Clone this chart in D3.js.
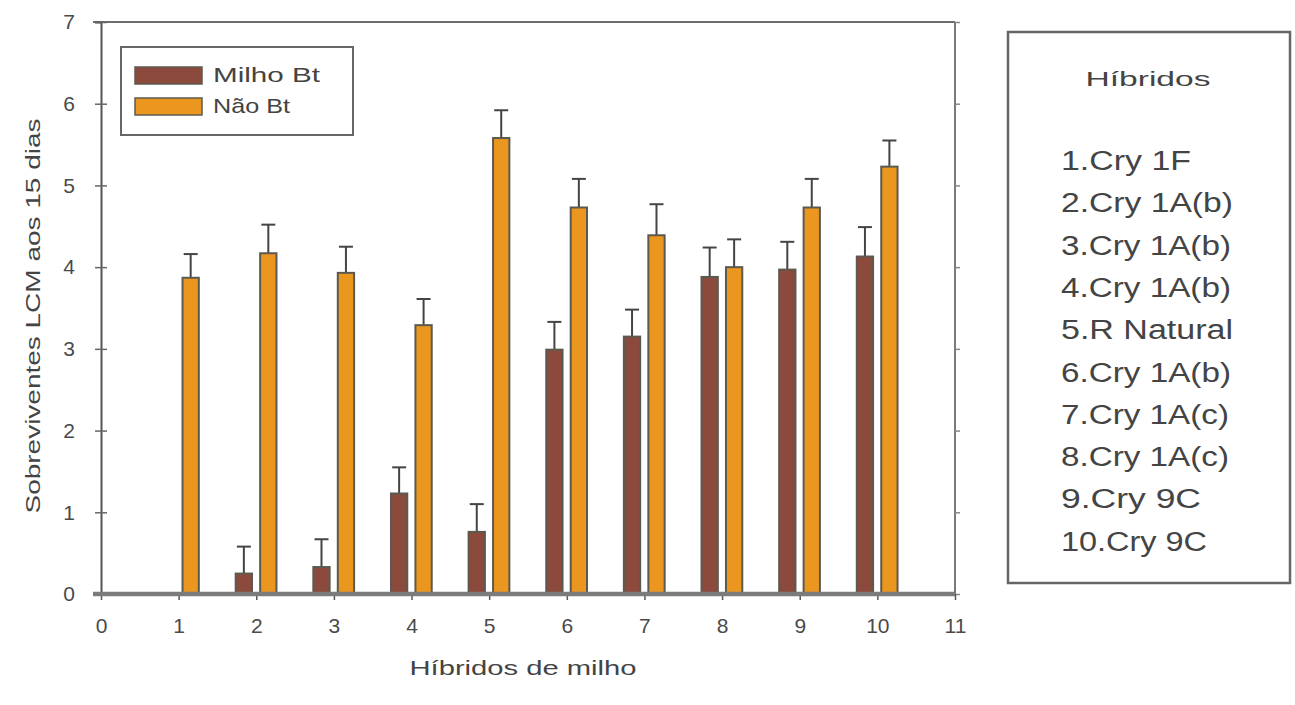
<!DOCTYPE html>
<html>
<head>
<meta charset="utf-8">
<script src="https://cdn.jsdelivr.net/npm/d3@7"></script>
<style>
  html, body { margin: 0; padding: 0; background: #fff; }
  svg { display: block; font-family: "Liberation Sans", Arial, sans-serif; }
</style>
</head>
<body>
<svg id="chart" width="1295" height="705"></svg>
<script>
// Survival of LCM larvae after 15 days on Bt and non-Bt corn hybrids
const hybrids = [1, 2, 3, 4, 5, 6, 7, 8, 9, 10];
const milhoBt = [0, 0.25, 0.33, 1.23, 0.76, 2.99, 3.15, 3.88, 3.97, 4.13];
const milhoBtErr = [0, 0.33, 0.34, 0.32, 0.34, 0.34, 0.33, 0.36, 0.34, 0.36];
const naoBt = [3.87, 4.17, 3.93, 3.29, 5.58, 4.73, 4.39, 4.0, 4.73, 5.23];
const naoBtErr = [0.29, 0.35, 0.32, 0.32, 0.34, 0.35, 0.38, 0.34, 0.35, 0.32];
const xTicks = [0, 1, 2, 3, 4, 5, 6, 7, 8, 9, 10, 11];
const yTicks = [0, 1, 2, 3, 4, 5, 6, 7];
const seriesNames = ["Milho Bt", "Não Bt"];
const hybridNames = ["1.Cry 1F", "2.Cry 1A(b)", "3.Cry 1A(b)", "4.Cry 1A(b)", "5.R Natural",
                     "6.Cry 1A(b)", "7.Cry 1A(c)", "8.Cry 1A(c)", "9.Cry 9C", "10.Cry 9C"];

const colors = ["#8c4a3c", "#eb961f"];
const svg = d3.select("#chart");

const plotLeft = 101, plotRight = 955, plotTop = 22, plotBottom = 594;
const x = d3.scaleLinear().domain([0, 11]).range([plotLeft, plotRight]);
const y = d3.scaleLinear().domain([0, 7]).range([plotBottom, plotTop]);

// frame: top and right lines
svg.append("line").attr("x1", plotLeft - 8).attr("x2", plotRight).attr("y1", plotTop).attr("y2", plotTop)
  .attr("stroke", "#6d6d6d").attr("stroke-width", 2);
svg.append("line").attr("x1", plotRight).attr("x2", plotRight).attr("y1", plotTop).attr("y2", plotBottom)
  .attr("stroke", "#7a7a7a").attr("stroke-width", 2);

// right axis ticks (outward)
const rAxis = svg.append("g").attr("transform", `translate(${plotRight},0)`)
  .call(d3.axisRight(y).tickValues(yTicks).tickSize(5).tickFormat(""));
rAxis.select(".domain").remove();
rAxis.selectAll("line").attr("stroke", "#888").attr("stroke-width", 1.5);

// left axis
const lAxis = svg.append("g").attr("transform", `translate(${plotLeft},0)`)
  .attr("font-family", "Liberation Sans, Arial, sans-serif")
  .call(d3.axisLeft(y).tickValues(yTicks).tickSize(6).tickPadding(20).tickFormat(d3.format("d")));
lAxis.attr("font-size", 21).attr("font-family", "Liberation Sans, Arial, sans-serif");
lAxis.select(".domain").attr("stroke", "#555").attr("stroke-width", 2);
lAxis.selectAll(".tick line").attr("stroke", "#666").attr("stroke-width", 1.5).attr("x2", 6).attr("x1", -6);
lAxis.selectAll(".tick text").attr("fill", "#4a4a4a").style("font-size", "21px");

// bars
const barW = x(0.21) - x(0);
const groups = [
  { vals: milhoBt, errs: milhoBtErr, off: -0.265, color: colors[0] },
  { vals: naoBt, errs: naoBtErr, off: 0.05, color: colors[1] }
];
groups.forEach(g => {
  const data = hybrids.map((h, i) => ({ h, v: g.vals[i], e: g.errs[i] })).filter(d => d.v > 0);
  // error bars (upper only)
  svg.append("g").selectAll("line.err").data(data).enter().append("line")
    .attr("x1", d => x(d.h + g.off) + barW / 2).attr("x2", d => x(d.h + g.off) + barW / 2)
    .attr("y1", d => y(d.v)).attr("y2", d => y(d.v + d.e))
    .attr("stroke", "#444").attr("stroke-width", 2);
  svg.append("g").selectAll("line.cap").data(data).enter().append("line")
    .attr("x1", d => x(d.h + g.off) + barW / 2 - 7).attr("x2", d => x(d.h + g.off) + barW / 2 + 7)
    .attr("y1", d => y(d.v + d.e)).attr("y2", d => y(d.v + d.e))
    .attr("stroke", "#444").attr("stroke-width", 2);
  svg.append("g").selectAll("rect").data(data).enter().append("rect")
    .attr("x", d => x(d.h + g.off)).attr("width", barW)
    .attr("y", d => y(d.v)).attr("height", d => y(0) - y(d.v))
    .attr("fill", g.color).attr("stroke", "#5c5a50").attr("stroke-width", 2);
});

// bottom axis
const bAxis = svg.append("g").attr("transform", `translate(0,${plotBottom})`)
  .call(d3.axisBottom(x).tickValues(xTicks).tickSize(6).tickPadding(18).tickFormat(d3.format("d")));
bAxis.attr("font-size", 21).attr("font-family", "Liberation Sans, Arial, sans-serif");
bAxis.select(".domain").remove();
svg.append("line").attr("x1", plotLeft - 8).attr("x2", plotRight).attr("y1", plotBottom).attr("y2", plotBottom)
  .attr("stroke", "#7b7b7b").attr("stroke-width", 4.5);
bAxis.selectAll(".tick line").attr("stroke", "#556").attr("stroke-width", 1.5);
bAxis.selectAll(".tick text").attr("fill", "#4a4a4a").style("font-size", "21px");

// axis titles
svg.append("text").attr("transform", "translate(40,316) rotate(-90)")
  .attr("text-anchor", "middle").attr("font-size", 20).attr("fill", "#444")
  .attr("textLength", 395).attr("lengthAdjust", "spacingAndGlyphs")
  .text("Sobreviventes LCM aos 15 dias");
svg.append("text").attr("x", 523).attr("y", 675)
  .attr("text-anchor", "middle").attr("font-size", 20).attr("fill", "#444")
  .attr("textLength", 227).attr("lengthAdjust", "spacingAndGlyphs")
  .text("Híbridos de milho");

// series legend
const leg = svg.append("g");
leg.append("rect").attr("x", 121).attr("y", 47).attr("width", 232).attr("height", 88)
  .attr("fill", "#fff").attr("stroke", "#666").attr("stroke-width", 2);
seriesNames.forEach((name, i) => {
  const yy = 67 + i * 31;
  leg.append("rect").attr("x", 135).attr("y", yy).attr("width", 67).attr("height", 17)
    .attr("fill", colors[i]).attr("stroke", "#5c5a50").attr("stroke-width", 1.5);
  leg.append("text").attr("x", 213).attr("y", yy + 15).attr("font-size", 21).attr("fill", "#444")
    .attr("textLength", i === 0 ? 107 : 77).attr("lengthAdjust", "spacingAndGlyphs")
    .text(name);
});

// hybrid key
const key = svg.append("g");
key.append("rect").attr("x", 1008).attr("y", 32).attr("width", 282).attr("height", 551)
  .attr("fill", "#fff").attr("stroke", "#666").attr("stroke-width", 2.5);
key.append("text").attr("x", 1148).attr("y", 86).attr("text-anchor", "middle")
  .attr("font-size", 21).attr("fill", "#444")
  .attr("textLength", 125).attr("lengthAdjust", "spacingAndGlyphs")
  .text("Híbridos");
const keyWidths = [130, 172, 170, 170, 172, 170, 168, 168, 140, 146];
hybridNames.forEach((name, i) => {
  key.append("text").attr("x", 1061).attr("y", 170 + i * 42.3)
    .attr("font-size", 27).attr("fill", "#444")
    .attr("textLength", keyWidths[i]).attr("lengthAdjust", "spacingAndGlyphs")
    .text(name);
});
</script>
</body>
</html>
